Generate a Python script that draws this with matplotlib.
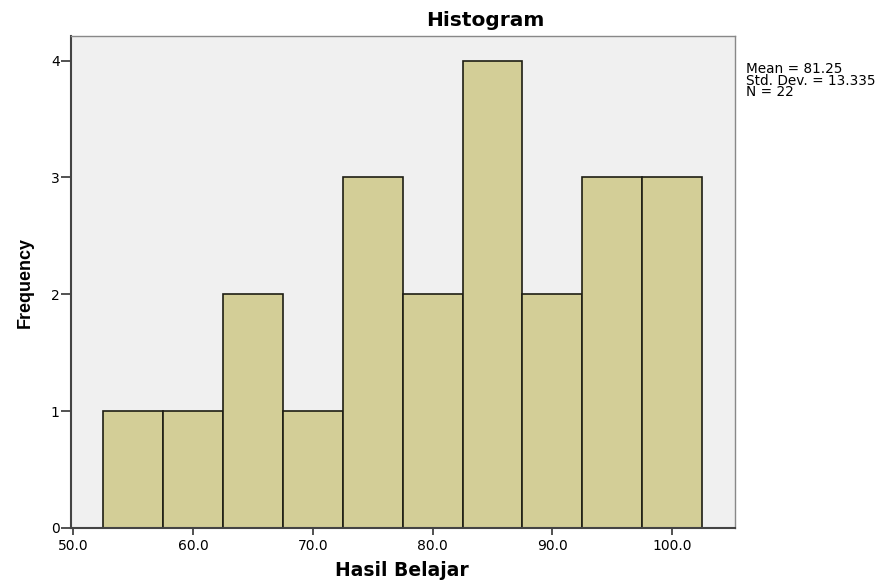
import matplotlib
matplotlib.use("Agg")
import matplotlib.pyplot as plt
import numpy as np

# histogram bins (Hasil Belajar) and frequencies
bin_edges = [52.5, 57.5, 62.5, 67.5, 72.5, 77.5, 82.5, 87.5, 92.5, 97.5, 102.5]
counts = [1, 1, 2, 1, 3, 2, 4, 2, 3, 3]
x_ticks = [50.0, 60.0, 70.0, 80.0, 90.0, 100.0]
y_ticks = [0, 1, 2, 3, 4]
stats_text = "Mean = 81.25\nStd. Dev. = 13.335\nN = 22"

plt.rcParams['font.family'] = ['DejaVu Sans']

fig = plt.figure(figsize=(8.89, 5.82), dpi=100)
ax = fig.add_axes([0.0795, 0.0928, 0.7473, 0.8453])
ax.set_facecolor('#F0F0F0')

widths = np.diff(bin_edges)
ax.bar(bin_edges[:-1], counts, width=widths, align='edge',
       color='#D3CE97', edgecolor='#1E1E14', linewidth=1.2, zorder=2)

ax.set_xlim(49.78, 105.25)
ax.set_ylim(0, 4.21)
ax.set_xticks(x_ticks)
ax.set_xticklabels([f'{t:.1f}' for t in x_ticks], fontsize=10)
ax.set_yticks(y_ticks)
ax.set_yticklabels([str(t) for t in y_ticks], fontsize=10)
ax.tick_params(axis='x', direction='out', length=5, width=1.2, color='#333333', pad=3)
ax.tick_params(axis='y', direction='out', length=7, width=1.2, color='#333333', pad=1)

for s in ax.spines.values():
    s.set_color('#888888')
    s.set_linewidth(1.0)
ax.spines['left'].set_color('#444444')
ax.spines['left'].set_linewidth(1.5)
ax.spines['bottom'].set_color('#444444')
ax.spines['bottom'].set_linewidth(1.5)

ax.set_ylabel('Frequency', fontsize=13, fontweight='bold', family='Liberation Sans',
              labelpad=12)
fig.text(402 / 889, 1 - 571 / 582, 'Hasil Belajar', fontsize=13.5, fontweight='bold',
         ha='center', va='center')
fig.text(485 / 889, 1 - 20 / 582, 'Histogram', fontsize=14.5, fontweight='bold',
         ha='center', va='center')
fig.text(746 / 889, 1 - 62 / 582, stats_text, fontsize=9.8, ha='left', va='top',
         linespacing=0.78)

fig.savefig('out.png', dpi=100)
